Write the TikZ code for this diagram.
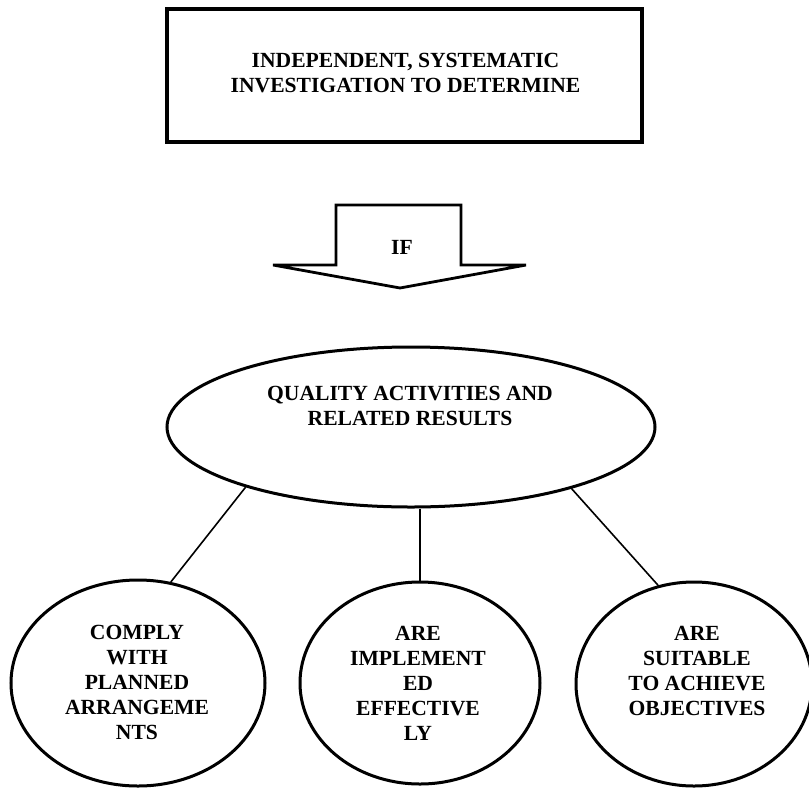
\documentclass[tikz,border=0pt]{standalone}
\usepackage{fontspec}
\setmainfont{Liberation Serif}
\usetikzlibrary{shapes.geometric}
\begin{document}
\begin{tikzpicture}[x=1pt,y=-1pt,
  txt/.style={font=\bfseries\fontsize{21.6}{25}\selectfont, align=center, inner sep=0pt},
  bubble/.style={draw, ellipse, line width=3pt, inner sep=0pt},
  link/.style={line width=1.6pt}]
\useasboundingbox (0,0) rectangle (809,788);
% top box
\node[draw, line width=3.4pt, minimum width=475pt, minimum height=133pt, inner sep=0pt] (box) at (404.5,75.5) {};
\node[txt] (boxt) at (405.5,73.5) {INDEPENDENT, SYSTEMATIC\\INVESTIGATION TO DETERMINE};
% block arrow
\draw[line width=2.8pt, line join=miter]
  (336,205) -- (461,205) -- (461,265) -- (526,265) -- (400,288) -- (273,265) -- (336,265) -- cycle;
\node[txt] (ift) at (402,247) {IF};
% ellipse
\node[bubble, minimum width=488pt, minimum height=160pt] (ell) at (411,427) {};
\node[txt] (ellt) at (410,405.5) {QUALITY ACTIVITIES AND\\RELATED RESULTS};
% bottom bubbles
\node[bubble, minimum width=254pt, minimum height=206pt] (c1) at (138,683) {};
\node[txt] (c1t) at (137,682.5) {COMPLY\\WITH\\PLANNED\\ARRANGEME\\NTS};
\node[bubble, minimum width=240pt, minimum height=202pt] (c2) at (420,683) {};
\node[txt] (c2t) at (418,683) {ARE\\IMPLEMENT\\ED\\EFFECTIVE\\LY};
\node[bubble, minimum width=236pt, minimum height=204pt] (c3) at (694,684) {};
\node[txt] (c3t) at (697,671) {ARE\\SUITABLE\\TO ACHIEVE\\OBJECTIVES};
% connectors
\draw[link] (ell.200.75) -- (c1.72.4);
\draw[link] (c2.north |- ell.south) -- (c2.north);
\draw[link] (ell.339) -- (c3.110.9);
\end{tikzpicture}
\end{document}
